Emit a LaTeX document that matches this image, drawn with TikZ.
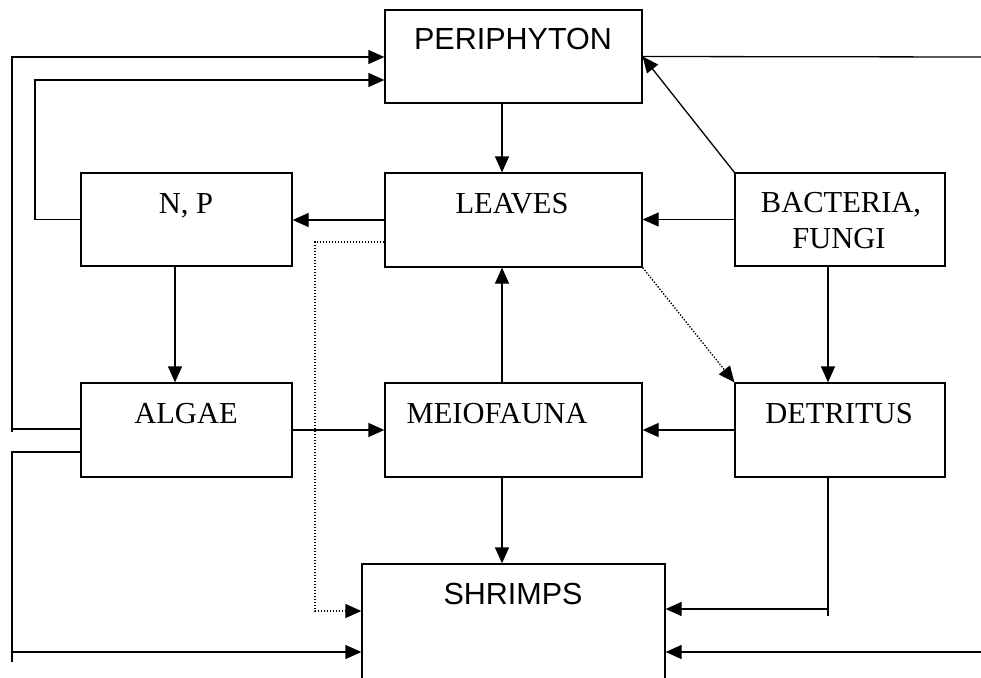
\documentclass[tikz,border=0pt]{standalone}
\usepackage{fontspec}
\setmainfont{Liberation Serif}
\newfontfamily\arialf{Liberation Sans}
\usetikzlibrary{arrows.meta}
\begin{document}
\begin{tikzpicture}[x=1pt,y=-1pt,
  box/.style={draw, line width=1.3pt, inner sep=0pt, minimum width=#1},
  box/.default=257pt,
  lbl/.style={anchor=base, inner sep=0pt, font=\fontsize{30.5}{36}\selectfont},
  slbl/.style={anchor=base, inner sep=0pt, font=\arialf\fontsize{30.5}{36}\selectfont},
  arr/.style={line width=1.3pt, -{Triangle[length=16pt,width=14pt]}},
  ln/.style={line width=1.3pt},
  dotarr/.style={line width=1.3pt, dash pattern=on 1.4pt off 1.6pt, -{Triangle[length=16pt,width=14pt]}}
]
\clip (0,0) rectangle (981,677);
\fill[white] (0,0) rectangle (981,677);
% boxes
\node[box, minimum height=93pt] (peri) at (513.5,56.5) {};
\node[box, minimum height=94pt] (leaves) at (513.5,220) {};
\node[box=211pt, minimum height=93pt] (np) at (186.5,219.5) {};
\node[box=210pt, minimum height=93pt] (bact) at (840,219.5) {};
\node[box=211pt, minimum height=94pt] (algae) at (186.5,430) {};
\node[box, minimum height=94pt] (meio) at (513.5,430) {};
\node[box=210pt, minimum height=94pt] (detr) at (840,430) {};
\node[box=303pt, minimum height=140pt] (shr) at (513.5,634) {};
% texts
\node[slbl] (tperi) at (513,49) {PERIPHYTON};
\node[lbl] (tleaves) at (512,213) {LEAVES};
\node[lbl] (tnp) at (186,213) {N, P};
\node[lbl] (tbact1) at (841,212) {BACTERIA,};
\node[lbl] (tbact2) at (839,248) {FUNGI};
\node[lbl] (talgae) at (186,423) {ALGAE};
\node[lbl] (tmeio) at (497,423) {MEIOFAUNA};
\node[lbl] (tdetr) at (839,423) {DETRITUS};
\node[slbl] (tshr) at (513,604) {SHRIMPS};
% helper coordinates
\coordinate (cx) at (502,0);
\coordinate (cnp) at (175,0);
\coordinate (cdx) at (828,0);
\coordinate (outL) at (12,57);
\coordinate (inL) at (35,80);
\coordinate (pr) at (981,57);
\coordinate (algL) at (12,452);
\coordinate (algLend) at (12,662);
\coordinate (algLa) at (12,652);
\coordinate (dotL) at (315,242);
\coordinate (dotLb) at (315,611);
\coordinate (dend) at (828,609);
\coordinate (dstub) at (828,616);
\coordinate (rb) at (981,652);
% connectors
\draw[arr] (peri.south -| cx) -- (leaves.north -| cx);
\draw[arr] (leaves.west) -- (leaves.west -| np.east);
\draw[arr] (bact.west) -- (bact.west -| leaves.east);
\draw[arr] (bact.north west) -- (peri.east);
\draw[ln] (peri.east) -- (pr);
\draw[arr] (np.west) -| (inL) -- (inL -| peri.west);
\draw[arr] (algae.west |- 0,429) -| (outL) -- (outL -| peri.west);
\draw[ln] (outL |- 0,429) -- (12,432);
\draw[ln] (algae.west |- algL) -- (algL) -- (algLend);
\draw[arr] (algLa) -- (algLa -| shr.west);
\draw[dotarr] (leaves.west |- dotL) -- (dotL) -- (dotLb) -- (dotLb -| shr.west);
\draw[dotarr] (leaves.south east) -- (detr.north west);
\draw[arr] (np.south -| cnp) -- (algae.north -| cnp);
\draw[arr] (algae.east) -- (meio.west);
\draw[arr] (detr.west) -- (meio.east);
\draw[arr] (meio.north -| cx) -- (leaves.south -| cx);
\draw[arr] (bact.south -| cdx) -- (detr.north -| cdx);
\draw[arr] (meio.south -| cx) -- (shr.north -| cx);
\draw[ln] (detr.south -| cdx) -- (dstub);
\draw[arr] (dend) -- (dend -| shr.east);
\draw[arr] (rb) -- (rb -| shr.east);
\end{tikzpicture}
\end{document}
